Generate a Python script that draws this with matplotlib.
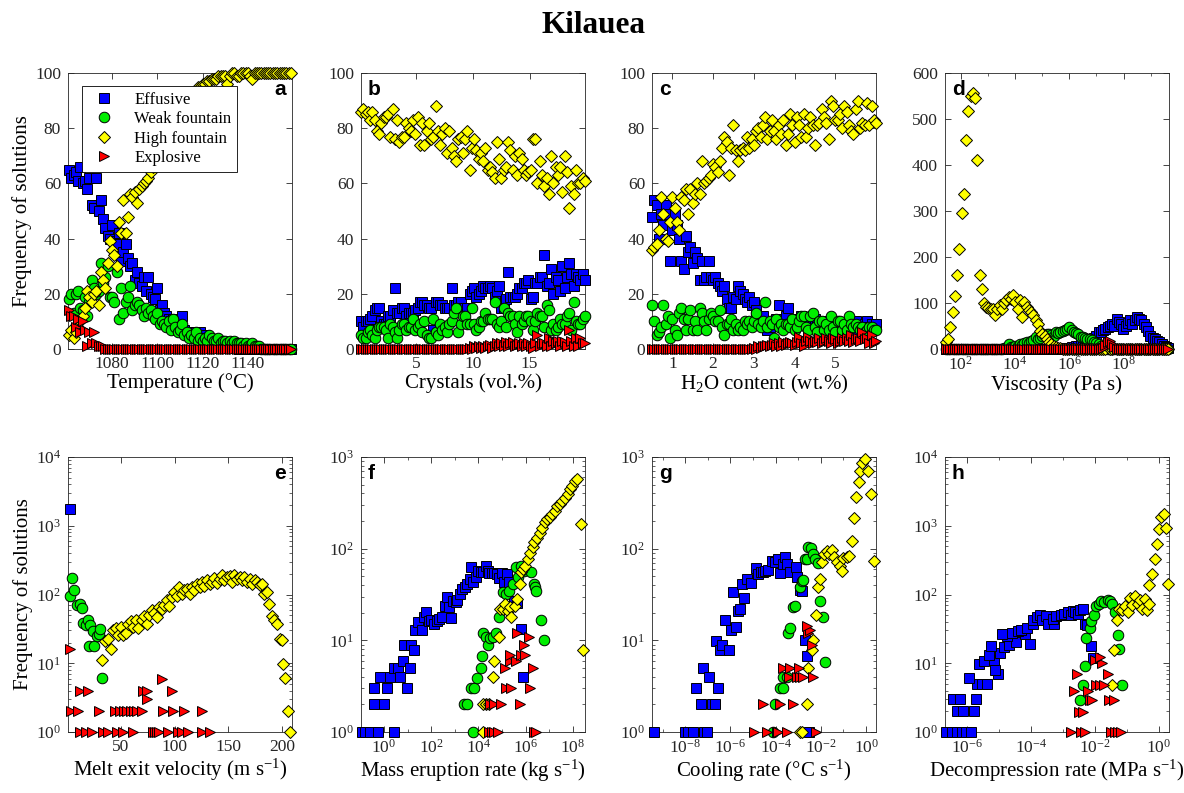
import numpy as np
import matplotlib.pyplot as plt
from matplotlib.ticker import FixedLocator, NullFormatter, LogLocator

plt.rcParams['font.family'] = 'serif'
plt.rcParams['font.serif'] = ['Liberation Serif', 'DejaVu Serif']
plt.rcParams['mathtext.fontset'] = 'custom'
plt.rcParams['mathtext.rm'] = 'Liberation Serif'
plt.rcParams['mathtext.it'] = 'Liberation Serif:italic'

# ---------------- a: temperature (1 degree bins) ----------------
a_T = np.arange(1061, 1160)
a_eff = [65, 62, 63, 64, 61, 66, 60, 61, 58, 62,
         52, 51, 62, 50, 54, 47, 44, 41, 40, 45,
         39, 38, 42, 32, 35, 38, 33, 30, 31, 25,
         28, 24, 23, 26, 21, 26, 20, 19, 18, 22,
         14, 16, 13, 12, 11, 10, 11, 9, 8, 8,
         12, 7, 6, 6, 6, 5, 6, 5, 6, 5,
         5, 4, 4, 3, 3, 3, 2, 2, 2, 2,
         1, 1, 1, 1, 1, 0, 0, 0, 0, 0,
         0, 0, 0, 0, 0, 0, 0, 0, 0, 0,
         0, 0, 0, 0, 0, 0, 0, 0, 0]
a_weak = [18, 20, 13, 20, 21, 15, 14, 19, 12, 17,
          25, 22, 20, 21, 31, 24, 26, 30, 19, 19,
          17, 28, 11, 22, 13, 17, 19, 23, 14, 16,
          17, 16, 14, 12, 15, 13, 14, 12, 11, 13,
          9, 10, 9, 8, 10, 7, 11, 8, 6, 7,
          9, 5, 6, 4, 5, 4, 6, 3, 4, 3,
          4, 3, 5, 4, 3, 3, 4, 2, 3, 3,
          2, 3, 2, 3, 2, 2, 2, 1, 2, 1,
          1, 2, 1, 1, 1, 0, 0, 0, 0, 0,
          0, 0, 0, 0, 0, 0, 0, 0, 0]
a_high = [5, 7, 4, 6, 8, 10, 12, 15, 21, 19,
          17, 20, 21, 16, 28, 25, 22, 31, 39, 36,
          34, 30, 46, 42, 54, 42, 48, 56, 55, 57,
          53, 58, 59, 60, 61, 62, 64, 66, 68, 70,
          72, 74, 75, 77, 79, 80, 82, 84, 85, 86,
          88, 89, 90, 91, 92, 93, 94, 95, 95, 96,
          96, 97, 97, 98, 98, 98, 99, 99, 99, 99,
          96, 99, 100, 100, 99, 99, 100, 100, 100, 100,
          99, 98, 100, 100, 100, 100, 100, 100, 100, 100,
          100, 100, 100, 100, 100, 100, 100, 100, 100]
a_expl = [14, 12, 12, 8, 11, 6, 10, 7, 1, 6,
          2, 6, 2, 1, 1, 1, 0, 0, 0, 0,
          0, 0, 0, 0, 0, 0, 0, 0, 0, 0,
          0, 0, 0, 0, 0, 0, 0, 0, 0, 0,
          0, 0, 0, 0, 0, 0, 0, 0, 0, 0,
          0, 0, 0, 0, 0, 0, 0, 0, 0, 0,
          0, 0, 0, 0, 0, 0, 0, 0, 0, 0,
          0, 0, 0, 0, 0, 0, 0, 0, 0, 0,
          0, 0, 0, 0, 0, 0, 0, 0, 0, 0,
          0, 0, 0, 0, 0, 0, 0, 0, 0]

# ---------------- b: crystals (100 bins) ----------------
b_x = np.linspace(0.1, 19.9, 100)
b_eff = [10, 8, 10, 10, 11, 12, 14, 15, 15, 10,
         9, 9, 12, 12, 14, 22, 13, 13, 15, 15,
         12, 13, 13, 13, 14, 15, 17, 17, 16, 16,
         15, 15, 7, 17, 17, 16, 16, 15, 15, 15,
         22, 16, 16, 17, 17, 15, 15, 15, 20, 21,
         22, 19, 20, 21, 23, 22, 22, 23, 22, 19,
         21, 23, 15, 15, 18, 28, 19, 19, 19, 20,
         22, 22, 24, 24, 25, 18, 19, 24, 24, 26,
         26, 34, 23, 24, 29, 20, 26, 25, 21, 30,
         22, 26, 31, 27, 23, 27, 26, 25, 27, 25]
b_weak = [5, 4, 4, 6, 7, 5, 4, 7, 8, 8,
          8, 7, 4, 9, 8, 6, 4, 7, 9, 9,
          7, 8, 8, 11, 7, 8, 9, 6, 10, 5,
          4, 4, 11, 6, 5, 9, 7, 8, 6, 9,
          10, 13, 15, 6, 9, 12, 12, 9, 9, 15,
          9, 7, 8, 10, 10, 13, 11, 11, 11, 17,
          9, 8, 10, 15, 8, 13, 12, 12, 9, 6,
          12, 9, 10, 12, 12, 10, 7, 10, 13, 12,
          12, 8, 16, 14, 7, 9, 7, 8, 11, 9,
          9, 12, 13, 7, 17, 10, 9, 9, 11, 12]
b_high = [86, 87, 85, 86, 83, 86, 83, 79, 78, 82,
          84, 84, 85, 77, 87, 76, 83, 75, 77, 77,
          82, 80, 79, 83, 78, 84, 74, 82, 74, 79,
          82, 76, 77, 88, 79, 74, 78, 80, 71, 79,
          73, 70, 68, 76, 77, 71, 76, 79, 65, 73,
          76, 72, 69, 71, 68, 73, 65, 66, 64, 62,
          75, 69, 62, 65, 66, 75, 72, 65, 70, 63,
          71, 69, 65, 63, 64, 65, 76, 76, 60, 68,
          63, 59, 62, 56, 70, 60, 66, 63, 66, 57,
          70, 64, 51, 59, 56, 65, 60, 60, 62, 61]
b_expl = [0, 0, 0, 0, 0, 0, 0, 0, 0, 0,
          0, 0, 0, 0, 0, 0, 0, 0, 0, 0,
          0, 0, 0, 0, 0, 0, 0, 0, 0, 0,
          0, 0, 0, 0, 0, 0, 0, 0, 0, 0,
          0, 0, 0, 0, 0, 0, 0, 0, 0.5, 0,
          1, 0.5, 1, 0.5, 1, 0.5, 1, 1.5, 0.5, 1,
          2, 1, 2, 1, 2.5, 1, 2, 2.5, 1, 1.5,
          2, 1, 2, 1, 2, 1, 0.5, 2, 5, 1,
          2, 2, 1, 4, 1, 3, 2, 3, 1, 3,
          2.5, 1, 7, 3, 1, 4, 1, 4, 2, 2]

# ---------------- c: H2O content (100 bins) ----------------
c_x = np.linspace(0.5, 6.0, 100)
c_eff = [48, 54, 52, 40, 49, 45, 52, 49, 32, 43,
         49, 45, 40, 32, 29, 41, 35, 37, 31, 35,
         33, 25, 32, 25, 26, 32, 26, 25, 26, 24,
         23, 21, 23, 18, 15, 15, 19, 18, 23, 21,
         20, 18, 17, 19, 16, 17, 14, 12, 12, 12,
         9, 7, 8, 9, 10, 11, 16, 10, 9, 12,
         15, 9, 8, 11, 10, 11, 12, 10, 9, 10,
         11, 10, 11, 10, 9, 10, 8, 9, 10, 9,
         9, 7, 8, 9, 8, 9, 9, 10, 8, 9,
         10, 7, 8, 7, 9, 10, 8, 9, 8, 9]
c_weak = [16, 10, 5, 6, 8, 16, 9, 12, 4, 11,
          7, 5, 13, 15, 11, 7, 11, 14, 7, 10,
          7, 15, 13, 10, 7, 11, 13, 12, 10, 10,
          14, 8, 5, 9, 9, 11, 7, 9, 7, 8,
          7, 10, 9, 10, 8, 10, 13, 9, 8, 10,
          17, 8, 10, 9, 4, 11, 8, 9, 7, 9,
          9, 8, 11, 7, 8, 10, 12, 12, 8, 7,
          12, 13, 8, 6, 10, 10, 7, 9, 7, 12,
          8, 6, 10, 10, 7, 9, 7, 12, 9, 8,
          9, 8, 7, 8, 6, 7, 8, 8, 7, 7]
c_high = [36, 37, 38, 43, 55, 49, 40, 39, 46, 55,
          51, 46, 43, 55, 54, 58, 49, 58, 53, 56,
          60, 56, 68, 60, 61, 62, 63, 67, 66, 64,
          68, 73, 77, 75, 63, 73, 81, 72, 68, 72,
          73, 72, 77, 73, 76, 74, 79, 80, 77, 81,
          84, 76, 79, 83, 79, 76, 81, 78, 83, 74,
          78, 85, 81, 75, 84, 81, 77, 85, 77, 80,
          84, 81, 74, 81, 82, 87, 84, 82, 76, 90,
          88, 83, 83, 85, 80, 88, 86, 81, 79, 78,
          87, 90, 80, 82, 81, 89, 81, 88, 83, 82]
c_expl = [0, 0, 0, 0, 0, 0, 0, 0, 0, 0,
          0, 0, 0, 0, 0, 0, 0, 0, 0, 0,
          0, 0, 0, 0, 0, 0, 0, 0, 0, 0,
          0, 0, 0, 0, 0, 0, 0, 0, 0, 0,
          0, 0, 0, 0, 0, 0.5, 0, 1, 0.5, 1,
          1, 1.5, 1, 1.5, 2, 1, 2, 1, 2.5, 1.5,
          2, 2.5, 2, 1.5, 2.5, 4.5, 2, 1, 3, 4.5,
          3, 2, 3, 2.5, 4, 2, 3, 4, 3, 2,
          4, 3.5, 2, 3, 4, 3, 4, 3, 5, 2.5,
          3.5, 4, 3, 6, 3.5, 4, 2, 5, 2, 3]

# ---------------- d: viscosity (100 log bins, log10 Pa s) ----------------
d_logx = np.linspace(1.45, 9.65, 100)
d_eff = [0, 0, 0, 0, 0, 0, 0, 0, 0, 0,
         0, 0, 0, 0, 0, 0, 0, 0, 0, 0,
         0, 0, 0, 0, 0, 0, 0, 0, 0, 0,
         0, 0, 0, 0, 0, 0, 0, 0, 0, 0,
         0, 0, 0, 0, 0, 0, 0, 0, 0, 0,
         1, 1, 2, 2, 3, 3, 4, 5, 6, 7,
         9, 10, 11, 14, 16, 18, 24, 29, 37, 38,
         42, 44, 48, 51, 55, 50, 66, 58, 55, 44,
         51, 57, 62, 55, 62, 69, 66, 62, 55, 47,
         39, 29, 25, 22, 18, 15, 11, 7, 5, 3]
d_weak = [0, 0, 0, 0, 0, 0, 0, 0, 0, 0,
          0, 0, 0, 0, 0, 0, 0, 0, 0, 0,
          0, 0, 0, 0, 0, 0, 2, 3, 10, 4,
          5, 6, 7, 11, 9, 12, 15, 13, 17, 20,
          26, 22, 24, 29, 30, 32, 33, 31, 29, 37,
          35, 37, 40, 42, 44, 48, 42, 37, 35, 33,
          27, 26, 25, 22, 21, 20, 15, 13, 11, 7,
          4, 2, 1, 0, 0, 0, 0, 0, 0, 0,
          0, 0, 0, 0, 0, 0, 0, 0, 0, 0,
          0, 0, 0, 0, 0, 0, 0, 0, 0, 0]
d_high = [15, 22, 48, 80, 116, 161, 217, 295, 336, 455,
          517, 549, 556, 545, 412, 161, 130, 99, 91, 90,
          88, 88, 73, 88, 95, 88, 100, 106, 113, 108,
          117, 102, 88, 106, 70, 102, 91, 85, 80, 73,
          62, 55, 40, 32, 29, 22, 15, 11, 6, 4,
          3, 2, 1, 1, 0, 0, 0, 0, 0, 0,
          0, 0, 0, 0, 0, 0, 0, 0, 0, 0,
          0, 0, 4, 0, 0, 3, 0, 0, 0, 0,
          0, 0, 0, 0, 0, 0, 0, 0, 0, 0,
          0, 0, 0, 0, 0, 0, 0, 0, 0, 0]
d_expl = [0, 0, 0, 0, 0, 0, 0, 0, 0, 0,
          0, 0, 0, 0, 0, 0, 0, 0, 0, 0,
          0, 0, 0, 0, 0, 0, 0, 0, 0, 0,
          0, 0, 0, 0, 0, 0, 0, 0, 0, 0,
          0, 0, 0, 0, 0, 0, 0, 0, 0, 0,
          0, 0, 0, 0, 0, 0, 0, 0, 0, 0,
          0, 0, 0, 0, 0, 0, 0, 0, 0, 0,
          3, 8, 15, 18, 10, 4, 1, 0, 0, 0,
          0, 0, 0, 0, 0, 0, 0, 0, 0, 0,
          0, 0, 0, 0, 0, 0, 0, 0, 0, 0]

# ---------------- e: melt exit velocity (m/s), only non-zero counts ----------------
e_eff_x = [2.4]
e_eff_y = [1780]
e_weak_x = [2.4, 4.8, 6.7, 9.2, 11.7, 13.6, 14.8, 17.3, 19.2, 20.4, 21.7, 24.1, 25.1,
            27.9, 29.7, 30.4, 32.5]
e_weak_y = [94, 176, 118, 70, 74, 64, 38, 36, 42, 18, 36, 29, 18, 25, 27, 32, 6.2]
e_high_x = [32.9, 35.0, 38.1, 40.6, 42.8, 45.3, 47.5, 49.7, 52.2, 54.6, 56.8, 59.0, 61.5,
            64.0, 66.2, 69.3, 71.5, 74.0, 76.4, 78.6, 80.8, 83.3, 85.8, 87.9, 90.1, 92.6,
            95.1, 97.3, 99.5, 102.0, 104.4, 106.6, 108.8, 111.3, 113.8, 115.9, 118.1,
            120.6, 123.1, 125.3, 127.5, 130.0, 132.5, 134.6, 136.8, 139.3, 141.8, 144.0,
            146.2, 148.6, 151.1, 153.3, 155.5, 158.0, 160.5, 162.6, 164.8, 167.3, 169.8,
            172.0, 174.2, 176.6, 179.1, 181.3, 182.9, 186.0, 187.5, 190.6, 192.2, 194.7,
            197.8, 200.0, 200.9, 202.2, 205.3, 207.2]
e_high_y = [11.3, 21.1, 22.8, 16.3, 30.8, 32.9, 25.5, 33.7, 25.5, 27.5, 37.7, 41.2, 33.7,
            42.1, 32.9, 42.1, 48.1, 37.7, 49.8, 58.9, 53.8, 47.1, 65.8, 62.2, 69.5, 82.3,
            67.3, 92, 109, 94, 129, 103, 115, 122, 101, 129, 115, 141, 129, 152, 131, 164,
            144, 152, 176, 147, 170, 190, 161, 180, 184, 152, 190, 170, 180, 161, 180, 152,
            170, 144, 161, 152, 136, 144, 103, 109, 73.6, 48.1, 42.1, 37.7, 22.8, 22, 9.9,
            6.2, 2, 1]
e_expl_x = [2.4, 11.7, 19.5, 3.9, 10.1, 29.7, 44.4, 49.0, 52.8, 55.9, 59.0, 62.1, 65.2,
            69.3, 70.8, 73.9, 73.9, 88.0, 89.5, 97.3, 98.2, 108.2, 125.3,
            11.7, 17.3, 23.5, 33.5, 38.1, 46.6, 52.2, 60.9, 80.2, 81.7, 83.3, 85.8, 94.2,
            103.5, 106.6, 112.8, 125.3, 133.1]
e_expl_y = [16, 4, 4, 2, 2, 2, 2, 2, 2, 2, 2, 2, 2, 2, 4, 4, 3, 6, 2, 4, 2, 2, 2,
            1, 1, 1, 1, 1, 1, 1, 1, 1, 1, 1, 1, 1, 1, 1, 1, 1, 1]

# ---------------- f: mass eruption rate (log10 kg/s) ----------------
f_eff_lx = [-0.94, -0.80, -0.61, -0.23, 0.41, -0.42, 0.02, -0.42, -0.16, 0.15, 0.24, 0.41,
            0.58, 0.69, 0.81, 0.86, 0.98, 1.09, 1.15, 1.26, 1.33, 1.43, 1.62, 1.71, 1.80,
            1.90, 2.00, 2.11, 2.23, 2.33, 2.47, 2.57, 2.68, 2.75, 2.85, 2.94, 3.04, 3.11,
            3.22, 3.32, 3.42, 3.53, 3.65, 3.70, 3.79, 3.89, 3.99, 4.10, 4.21, 4.31, 4.39,
            4.46, 4.56, 4.67, 4.78, 4.88, 4.98, 5.10, 5.21, 5.31, 5.52, 5.64, 5.81, 5.88]
f_eff_y = [1, 1, 1, 1, 1, 2, 2, 3, 4, 3, 4, 5, 5, 4, 5.9, 8.8, 3, 5, 8.8, 7.9, 13, 15.7,
           13, 17.8, 20.2, 16.1, 16.7, 15.1, 16.1, 17.1, 17.8, 23.9, 30, 22.9, 17.4, 27.1,
           26, 27.6, 32, 36.3, 37.9, 41.1, 46.6, 63.5, 43, 48.6, 57.4, 55, 55, 65.1, 57.4,
           54, 54, 54, 52.8, 47.8, 54, 43, 52.8, 43, 27.1, 25.3, 13.3, 4]
f_weak_lx = [3.39, 3.53, 3.79, 3.67, 3.82, 3.96, 4.10, 4.17, 4.21, 4.31, 4.39, 4.50, 4.60,
             4.74, 4.88, 5.02, 5.16, 5.31, 5.45, 5.59, 5.66, 5.81, 5.92, 6.23, 6.35, 6.40,
             6.45, 6.63, 6.77]
f_weak_y = [2, 2, 1, 3, 3, 3.9, 5, 6.8, 11.9, 10.8, 8.8, 10.6, 10.8, 11.9, 17.8, 33.4, 32,
            34.8, 41.1, 62.4, 48.6, 65.1, 57.4, 55, 41.1, 37.9, 34.8, 16.7, 10.1]
f_high_lx = [4.21, 4.31, 4.46, 4.21, 4.64, 4.60, 4.88, 4.93, 5.02, 5.12, 5.24, 5.35, 5.38,
             5.55, 5.64, 5.74, 5.78, 5.88, 5.98, 6.09, 6.20, 6.30, 6.37, 6.49, 6.59, 6.69,
             6.80, 6.91, 7.01, 7.11, 7.23, 7.34, 7.44, 7.54, 7.65, 7.77, 7.87, 7.96, 8.08,
             8.19, 8.33, 8.43]
f_high_y = [2, 2, 2, 1, 5.9, 4, 10.8, 22, 22, 24.9, 20.7, 22.9, 17.8, 23.9, 28.2, 41.1, 55,
            59.9, 65.1, 76.9, 88.6, 103, 117, 132, 150, 170, 193, 210, 222, 238, 258, 293,
            305, 332, 361, 399, 444, 483, 548, 571, 185, 7.9]
f_expl_lx = [4.46, 4.56, 4.67, 4.81, 6.35, 6.45, 4.50, 4.64, 4.95, 5.74, 5.17, 5.38, 6.20,
             5.12, 6.30, 5.35, 5.59, 5.35, 5.81, 5.98, 5.92, 6.16, 5.64]
f_expl_y = [1, 1, 1, 1, 1, 1, 2, 2, 2, 2, 3, 3, 3, 5, 5, 6, 6, 7, 7, 7, 9, 11, 12]

# ---------------- g: cooling rate (log10 degC/s) ----------------
g_eff_lx = [-9.37, -8.03, -7.88, -7.66, -7.19, -7.04, -2.51, -7.29, -6.80, -6.70, -7.51,
            -6.55, -7.22, -6.95, -6.66, -6.45, -6.36, -6.06, -6.26, -5.96, -5.77, -5.88,
            -5.66, -5.59, -5.41, -5.47, -5.26, -5.07, -4.88, -4.77, -4.67, -4.58, -4.48,
            -4.33, -4.18, -4.03, -3.88, -3.81, -3.69, -3.59, -3.48, -3.37, -3.10, -3.07,
            -2.92, -2.85, -2.70, -2.60]
g_eff_y = [1, 1, 1, 1, 1, 1, 1, 2, 2, 2, 3, 3, 5, 4, 9.8, 7.9, 8.8, 7.9, 16.7, 13, 13.9,
           33.4, 20.7, 22, 29, 41.1, 46.6, 41.8, 61.4, 52.8, 55, 55, 57.4, 58.4, 72.6, 71,
           76.9, 53.7, 67.9, 80.2, 67.9, 55, 62.4, 48.6, 35.4, 34.8, 10.1, 6.8]
g_weak_lx = [-4.11, -4.03, -3.81, -3.69, -3.69, -3.51, -3.44, -3.37, -3.22, -3.14, -2.92,
             -2.85, -2.77, -2.70, -2.63, -2.55, -2.45, -2.36, -2.26, -2.11, -2.03, -1.91,
             -1.81]
g_weak_y = [1, 2, 3, 3, 4, 4, 11.9, 13.7, 22.9, 23.9, 37.9, 44.7, 45.5, 76.9, 76.9, 103, 101,
            87.2, 76.9, 69, 27.1, 18.1, 5.8]
g_high_lx = [-2.92, -2.85, -2.63, -2.55, -2.40, -2.33, -2.21, -2.11, -2.03, -1.96, -1.88,
             -1.74, -1.62, -1.51, -1.44, -1.29, -1.17, -1.07, -1.00, -0.85, -0.77, -0.63,
             -0.52, -0.43, -0.33, -0.26, -0.18, -0.03, 0.07, 0.22, 0.37]
g_high_y = [1, 1, 2, 5, 7.9, 10.1, 19.1, 37.9, 46.6, 71, 87.2, 94.8, 87.2, 96.4, 80.2, 71,
            65.1, 57.4, 78.9, 80.2, 83.6, 122, 215, 367, 539, 704, 867, 942, 704, 392, 73.8]
g_expl_lx = [-4.97, -4.40, -3.96, -3.88, -3.51, -2.21, -4.55, -3.81, -3.22, -3.40, -3.07,
             -2.92, -2.77, -2.33, -3.66, -3.37, -2.95, -2.40, -2.55, -2.48, -2.60]
g_expl_y = [1, 1, 1, 1, 1, 1, 2, 2, 2, 4, 4, 4, 4, 4, 5, 5, 5, 8.8, 11.9, 13, 14.5]

# ---------------- h: decompression rate (log10 MPa/s) ----------------
h_eff_lx = [-6.66, -6.48, -6.32, -6.16, -6.03, -5.88, -6.30, -6.11, -5.77, -6.43, -6.22,
            -5.71, -5.69, -5.53, -5.37, -5.95, -5.04, -5.11, -5.61, -5.48, -5.16, -5.32,
            -4.97, -5.25, -4.83, -4.69, -4.03, -4.48, -4.76, -4.90, -4.20, -4.58, -4.41,
            -4.32, -4.13, -3.92, -3.95, -3.82, -3.71, -3.64, -3.53, -3.48, -3.29, -3.32,
            -3.22, -3.06, -2.97, -2.85, -2.74, -2.69, -2.62, -2.53, -2.45, -2.38, -2.32,
            -2.24, -2.11, -2.06]
h_eff_y = [1, 1, 1, 1, 1, 1, 2, 2, 2, 3, 3, 3, 5, 5, 5, 6.2, 7, 8.1, 9.9, 10.8, 11.3, 13,
           14.1, 17.6, 17.2, 18.2, 18.9, 20.4, 24.7, 26.3, 26.9, 27.5, 29.3, 30.8, 33, 37.7,
           42, 46.9, 49.8, 42, 48, 36.8, 37.7, 44.6, 48, 49.8, 51.5, 55.7, 49.8, 57.6, 55.7,
           52.4, 58.9, 62.2, 37.7, 35.6, 17.6, 12.1]
h_weak_lx = [-2.45, -2.38, -2.32, -2.27, -2.16, -2.11, -2.03, -1.95, -1.88, -1.80, -1.71,
             -1.60, -1.53, -1.45, -1.37, -1.29, -1.25, -1.16]
h_weak_y = [2.95, 4.9, 9, 23.6, 32.9, 41.2, 49.8, 67.3, 73.6, 80.4, 77.7, 84.2, 80.4, 73.6,
            55.6, 25.5, 16.3, 4.9]
h_high_lx = [-1.46, -1.40, -1.32, -1.25, -1.14, -1.06, -0.97, -0.90, -0.83, -0.74, -0.66,
             -0.58, -0.51, -0.43, -0.37, -0.32, -0.29, -0.20, -0.13, -0.06, 0.02, 0.08,
             0.15, 0.22, 0.29]
h_high_y = [4.9, 15.8, 42, 62.2, 58.9, 67.3, 55.6, 89.9, 69.5, 94, 73.6, 84.2, 62.2, 87,
            58.9, 73.6, 136, 201, 332, 537, 907, 1340, 1500, 938, 141]
h_expl_lx = [-2.76, -2.43, -2.30, -1.48, -1.37, -1.29, -1.18, -2.51, -2.38, -2.16, -2.09,
             -1.56, -1.40, -2.66, -2.22, -1.95, -1.85, -1.71, -2.55, -1.60, -1.79, -2.00,
             -1.85]
h_expl_y = [1, 1, 1, 1, 1, 1, 1, 1.95, 1.95, 2.9, 2.9, 2.9, 2.9, 4, 4, 4.9, 4.9, 4.9, 6.9,
            6.9, 10.1, 11.3, 12.3]

LABELS = ['Effusive', 'Weak fountain', 'High fountain', 'Explosive']
MARKERS = ['s', 'o', 'D', '>']
COLORS = ['#0000ff', '#00ee00', '#ffff00', '#ff0000']
SIZES = [6.8, 7.6, 5.7, 7.6]
AXC = '#262626'


def draw(ax, xs, ys):
    for k in range(4):
        ax.plot(np.asarray(xs[k], float), np.asarray(ys[k], float), ls='none',
                marker=MARKERS[k], ms=SIZES[k], mfc=COLORS[k], mec='k', mew=0.7,
                clip_on=False, zorder=3 + k, label=LABELS[k])


def style(ax):
    for s in ax.spines.values():
        s.set_linewidth(0.6)
        s.set_color(AXC)
    ax.tick_params(which='both', direction='in', top=True, right=True,
                   colors=AXC, labelsize=12.5)
    ax.tick_params(which='major', length=4, width=0.6, pad=5)
    ax.tick_params(which='minor', length=2, width=0.5)


def log_x(ax, lo, hi, major, minor):
    ax.set_xscale('log')
    ax.set_xlim(10.0 ** lo, 10.0 ** hi)
    ax.xaxis.set_major_locator(FixedLocator([10.0 ** k for k in major]))
    ax.xaxis.set_minor_locator(FixedLocator([10.0 ** k for k in minor]))
    ax.xaxis.set_minor_formatter(NullFormatter())


def log_y(ax, top):
    ax.set_yscale('log')
    ax.set_ylim(1, 10.0 ** top)
    ax.yaxis.set_major_locator(LogLocator(base=10, numticks=10))
    ax.yaxis.set_minor_locator(LogLocator(base=10, subs=np.arange(2, 10), numticks=10))
    ax.yaxis.set_minor_formatter(NullFormatter())


def letter(ax, s, right=False):
    if right:
        ax.text(0.975, 0.975, s, transform=ax.transAxes, ha='right', va='top',
                fontsize=15, fontweight='bold', family='Liberation Sans', zorder=10)
    else:
        ax.text(0.03, 0.975, s, transform=ax.transAxes, ha='left', va='top',
                fontsize=15, fontweight='bold', family='Liberation Sans', zorder=10)


fig = plt.figure(figsize=(11.84, 7.93), dpi=100)
lefts = [0.0574, 0.3049, 0.5507, 0.7981]
W = 0.1892
top = [fig.add_axes([l, 0.5599, W, 0.348]) for l in lefts]
bot = [fig.add_axes([l, 0.0769, W, 0.3468]) for l in lefts]
for ax in top + bot:
    style(ax)

XL = 15

# a
ax = top[0]
draw(ax, [a_T] * 4, [a_eff, a_weak, a_high, a_expl])
ax.set_xlim(1060.5, 1159.5)
ax.set_ylim(0, 100)
ax.set_xticks([1080, 1100, 1120, 1140])
ax.set_yticks(range(0, 101, 20))
ax.set_xlabel('Temperature (°C)', fontsize=XL, labelpad=1)
ax.set_ylabel('Frequency of solutions', fontsize=XL, labelpad=2)
letter(ax, 'a', right=True)
leg = ax.legend(loc='upper left', bbox_to_anchor=(0.0625, 0.953), borderaxespad=0,
                fontsize=12, frameon=True, fancybox=False, framealpha=1,
                edgecolor='k', handlelength=2.0, handletextpad=0.8,
                borderpad=0.35, labelspacing=0.2, numpoints=1)
leg.get_frame().set_linewidth(0.6)
leg.set_zorder(20)

# b
ax = top[1]
draw(ax, [b_x] * 4, [b_eff, b_weak, b_high, b_expl])
ax.set_xlim(0.1, 19.9)
ax.set_ylim(0, 100)
ax.set_xticks([5, 10, 15])
ax.set_yticks(range(0, 101, 20))
ax.set_xlabel('Crystals (vol.%)', fontsize=XL, labelpad=1)
letter(ax, 'b')

# c
ax = top[2]
draw(ax, [c_x] * 4, [c_eff, c_weak, c_high, c_expl])
ax.set_xlim(0.5, 6.0)
ax.set_ylim(0, 100)
ax.set_xticks([1, 2, 3, 4, 5])
ax.set_yticks(range(0, 101, 20))
ax.set_xlabel('H$_2$O content (wt.%)', fontsize=XL, labelpad=1)
letter(ax, 'c')

# d
ax = top[3]
dx = 10.0 ** d_logx
draw(ax, [dx] * 4, [d_eff, d_weak, d_high, d_expl])
log_x(ax, 1.42, 9.67, [2, 4, 6, 8], [3, 5, 7, 9])
ax.set_ylim(0, 600)
ax.set_yticks(range(0, 601, 100))
ax.set_xlabel('Viscosity (Pa s)', fontsize=XL, labelpad=1)
letter(ax, 'd')

# e
ax = bot[0]
draw(ax, [e_eff_x, e_weak_x, e_high_x, e_expl_x], [e_eff_y, e_weak_y, e_high_y, e_expl_y])
ax.set_xlim(0.8, 209)
ax.set_xticks([50, 100, 150, 200])
log_y(ax, 4)
ax.set_xlabel('Melt exit velocity (m s$^{-1}$)', fontsize=XL, labelpad=1)
ax.set_ylabel('Frequency of solutions', fontsize=XL, labelpad=2)
letter(ax, 'e', right=True)

# f
ax = bot[1]
draw(ax, [10.0 ** np.array(v) for v in (f_eff_lx, f_weak_lx, f_high_lx, f_expl_lx)],
     [f_eff_y, f_weak_y, f_high_y, f_expl_y])
log_x(ax, -0.97, 8.51, [0, 2, 4, 6, 8], [1, 3, 5, 7])
log_y(ax, 3)
ax.set_xlabel('Mass eruption rate (kg s$^{-1}$)', fontsize=XL, labelpad=1)
letter(ax, 'f')

# g
ax = bot[2]
draw(ax, [10.0 ** np.array(v) for v in (g_eff_lx, g_weak_lx, g_high_lx, g_expl_lx)],
     [g_eff_y, g_weak_y, g_high_y, g_expl_y])
log_x(ax, -9.47, 0.44, [-8, -6, -4, -2, 0], [-9, -7, -5, -3, -1])
log_y(ax, 3)
ax.set_xlabel('Cooling rate (°C s$^{-1}$)', fontsize=XL, labelpad=1)
letter(ax, 'g')

# h
ax = bot[3]
draw(ax, [10.0 ** np.array(v) for v in (h_eff_lx, h_weak_lx, h_high_lx, h_expl_lx)],
     [h_eff_y, h_weak_y, h_high_y, h_expl_y])
log_x(ax, -6.69, 0.32, [-6, -4, -2, 0], [-5, -3, -1])
log_y(ax, 4)
ax.set_xlabel('Decompression rate (MPa s$^{-1}$)', fontsize=XL, labelpad=1)
letter(ax, 'h')

fig.text(0.501, 0.968, 'Kilauea', ha='center', va='center', fontsize=22.5,
         fontweight='bold')

fig.savefig('out.png', dpi=100)
